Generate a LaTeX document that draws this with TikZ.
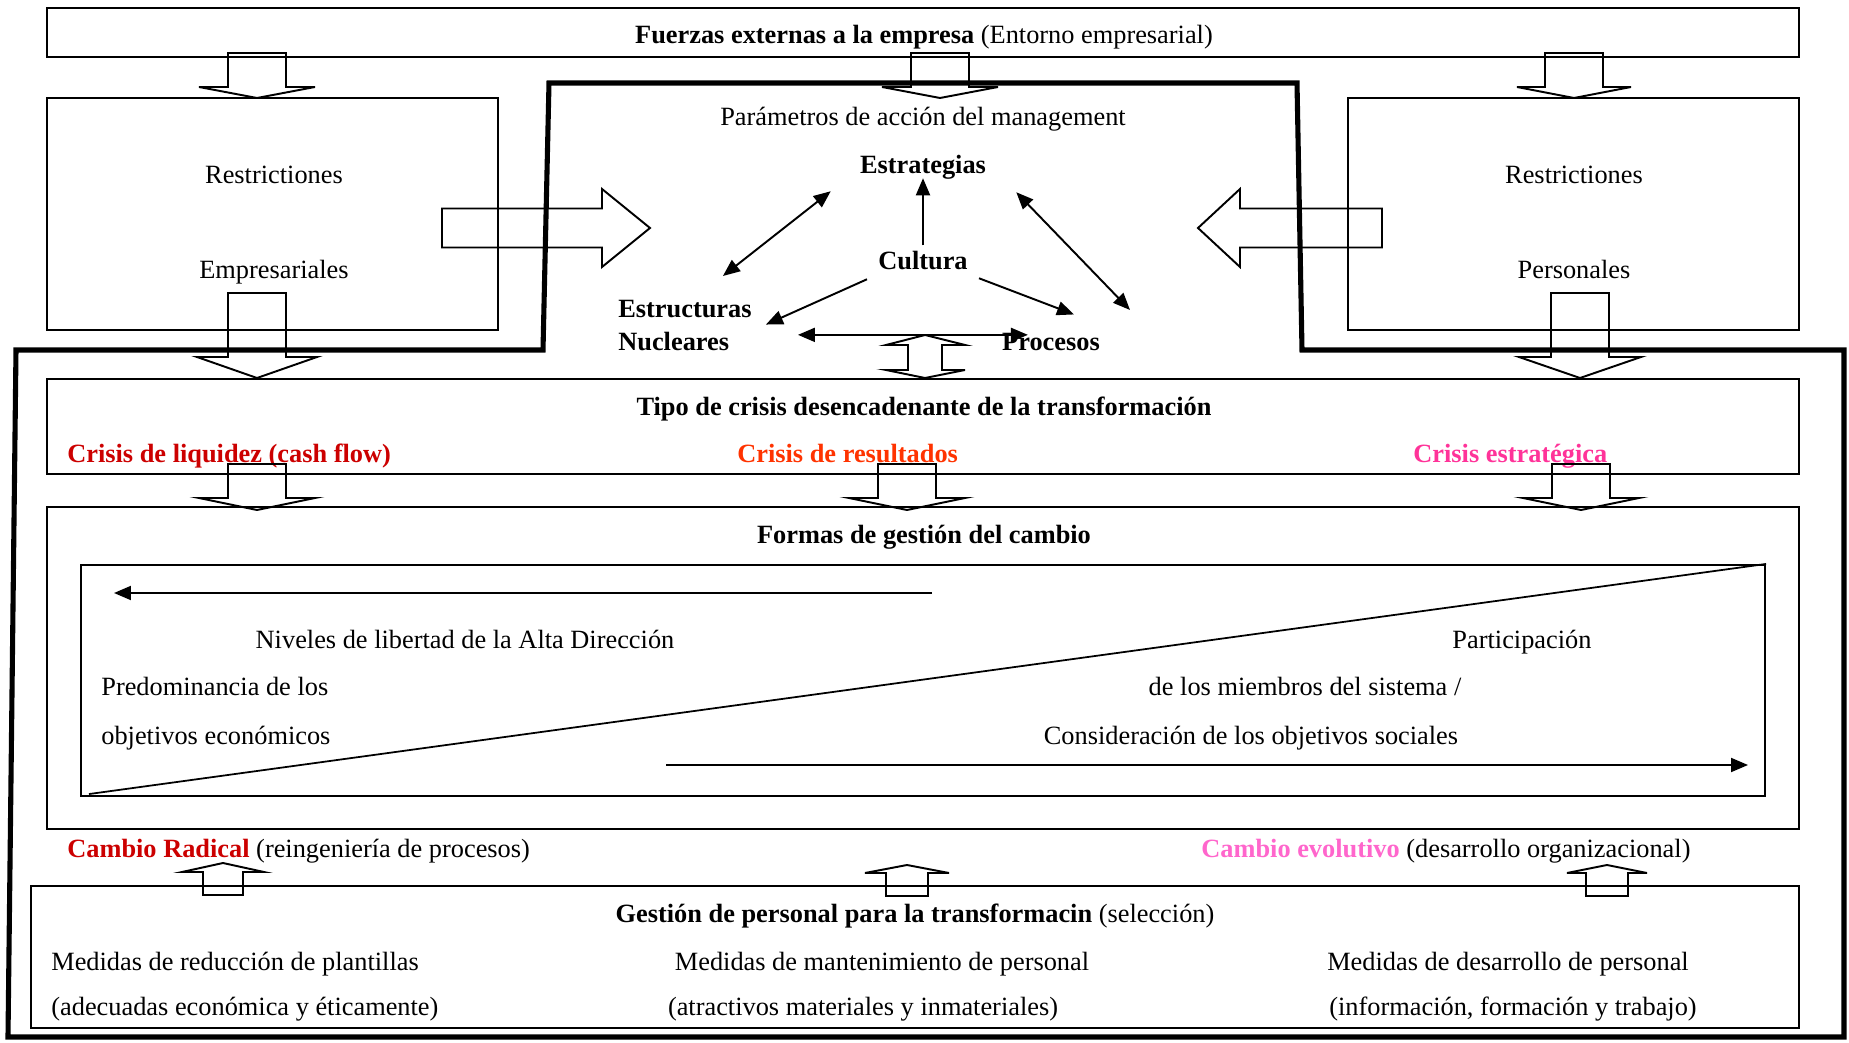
\documentclass[tikz,border=0pt]{standalone}
\usepackage{fontspec}
\setmainfont{Liberation Serif}
\usetikzlibrary{arrows.meta,fit,positioning}

\definecolor{liqred}{HTML}{CC0000}
\definecolor{resorange}{HTML}{FF3300}
\definecolor{estpink}{HTML}{FF3399}
\definecolor{evopink}{HTML}{FF66CC}

% hollow block arrows: centre, start, head base, tip, shaft half, head half
\newcommand{\blkvert}[6]{%
  \draw[blk] ({#1-#5},#2) -- ({#1-#5},#3) -- ({#1-#6},#3) -- (#1,#4)
    -- ({#1+#6},#3) -- ({#1+#5},#3) -- ({#1+#5},#2) -- cycle;}
\newcommand{\blkhorz}[6]{%
  \draw[blk] (#2,{#1-#5}) -- (#3,{#1-#5}) -- (#3,{#1-#6}) -- (#4,#1)
    -- (#3,{#1+#6}) -- (#3,{#1+#5}) -- (#2,{#1+#5}) -- cycle;}

\begin{document}
\begin{tikzpicture}[x=0.02cm, y=-0.02cm,
    font=\fontsize{15}{18.7}\selectfont,
    box/.style={draw, line width=0.9pt, inner sep=0pt},
    blk/.style={draw, line width=1.1pt, line join=miter},
    frame/.style={draw, line width=2.9pt, line join=miter},
    arr/.style={line width=1.1pt, -{Triangle[length=0.34cm,width=0.28cm]}},
    dblarr/.style={line width=1.1pt, {Triangle[length=0.34cm,width=0.28cm]}-{Triangle[length=0.34cm,width=0.28cm]}},
    txt/.style={inner sep=0pt, text height=1.5ex, text depth=.25ex, yshift=-2.2pt},
    hd/.style={txt, font=\fontsize{15}{18.7}\selectfont\bfseries}
  ]
  \useasboundingbox (0,0) rectangle (1849,1043);

  % boxes
  \node[box, fit={(47,8) (1799,57)}] (fuerzas) {};
  \node[box, fit={(47,98) (498,330)}] (restE) {};
  \node[box, fit={(1348,98) (1799,330)}] (restP) {};
  \node[box, fit={(47,379) (1799,474)}] (crisis) {};
  \node[box, fit={(47,507) (1799,829)}] (formas) {};
  \node[box, line width=1.2pt, fit={(81,565) (1765,796)}] (formasIn) {};
  \node[box, fit={(31,886) (1799,1028)}] (gestion) {};

  % management frame
  \draw[frame] (8,1037) -- (16,350) -- (543,350) -- (549,83) -- (1297,83)
    -- (1302,350) -- (1844,350) -- (1844,1037) -- cycle;

  % texts of the upper part
  \node[txt] (fuerzasT) at (924,35) {\textbf{Fuerzas externas a la empresa} (Entorno empresarial)};
  \node[txt] (restE1) at (274,175) {Restrictiones};
  \node[txt] (restE2) at (274,270) {Empresariales};
  \node[txt] (restP1) at (1574,175) {Restrictiones};
  \node[txt] (restP2) at (1574,270) {Personales};
  \node[txt] (param) at (923,117) {Parámetros de acción del management};
  \node[hd] (estr) at (923,165) {Estrategias};
  \node[hd] (cult) at (923,261) {Cultura};
  \node[inner sep=0pt, align=left, font=\fontsize{15}{18.7}\selectfont\bfseries, anchor=north west] (nucl) at (618,300) {Estructuras\\Nucleares};
  \node[hd] (proc) at (1051,342) {Procesos};
  \coordinate (estrR) at (1130,310);
  \coordinate (procL) at ([shift={(26,-11)}]proc.west);

  \draw[arr] ([shift={(0,-12)}]cult.north) -- ([shift={(0,2)}]estr.south);
  \draw[dblarr] ([shift={(-29,15)}]estr.south west) -- ([shift={(-29,-24)}]nucl.north east);
  \draw[arr] ([shift={(-11,7)}]cult.south west) -- ([shift={(14,-1)}]nucl.east);
  \draw[arr] ([shift={(11,6)}]cult.south east) -- ([shift={(23,-24)}]proc.north);
  \draw[dblarr] ([shift={(30,16)}]estr.south east) -- (estrR);
  \draw[dblarr] ([shift={(46,0)}]procL -| nucl.east) -- (procL);

  % crisis
  \node[hd] (crisisT) at (924,407) {Tipo de crisis desencadenante de la transformación};
  \node[hd, anchor=west, text=liqred] (liq) at (67,454) {Crisis de liquidez (cash flow)};
  \node[hd, anchor=west, text=resorange] (res) at (737,454) {Crisis de resultados};
  \node[hd, anchor=west, text=estpink] (est) at (1413,454) {Crisis estratégica};

  % formas de gestion
  \node[hd] (formasT) at (924,535) {Formas de gestión del cambio};
  \coordinate (libR) at (932,593);
  \coordinate (libL) at (114,593);
  \coordinate (partL) at (666,765);
  \coordinate (partR) at (1748,765);
  \draw[arr] (libR) -- (libL);
  \draw[arr] (partL) -- (partR);
  \draw[line width=1pt] ([shift={(9,-3)}]formasIn.south west) -- (formasIn.north east);
  \node[txt] (libT) at (465,640) {Niveles de libertad de la Alta Dirección};
  \node[txt, anchor=west] (eco1) at (101,687) {Predominancia de los};
  \node[txt, anchor=west] (eco2) at (101,736) {objetivos económicos};
  \node[txt] (part1) at (1522,640) {Participación};
  \node[txt] (part2) at (1305,687) {de los miembros del sistema /};
  \node[txt] (part3) at (1251,736) {Consideración de los objetivos sociales};

  % cambio
  \node[txt, anchor=west] (radical) at (67,849) {\textbf{\textcolor{liqred}{Cambio Radical}} (reingeniería de procesos)};
  \node[txt, anchor=west] (evol) at (1201,849) {\textbf{\textcolor{evopink}{Cambio evolutivo}} (desarrollo organizacional)};

  % gestion de personal
  \node[txt] (gestionT) at (915,914) {\textbf{Gestión de personal para la transformacin} (selección)};
  \node[txt, anchor=west] (red1) at (51,962) {Medidas de reducción de plantillas};
  \node[txt, anchor=west] (red2) at (51,1007) {(adecuadas económica y éticamente)};
  \node[txt] (man1) at (882,962) {Medidas de mantenimiento de personal};
  \node[txt] (man2) at (863,1007) {(atractivos materiales y inmateriales)};
  \node[txt] (des1) at (1508,962) {Medidas de desarrollo de personal};
  \node[txt] (des2) at (1513,1007) {(información, formación y trabajo)};

  % block arrows
  \blkvert{257}{53}{87}{98}{29}{58}
  \blkvert{940}{53}{87}{98}{29}{58}
  \blkvert{1574}{53}{87}{98}{29}{57}
  \blkhorz{228}{442}{602}{650}{19.5}{39}
  \blkhorz{228}{1382}{1240}{1198}{19.5}{39}
  \blkvert{257}{293}{357}{378}{29}{60}
  \blkvert{1580}{293}{357}{378}{29}{61}
  \draw[blk] (925,335) -- (965,345) -- (942,345) -- (942,370) -- (965,370) -- (925,378)
    -- (886,370) -- (908,370) -- (908,345) -- (886,345) -- cycle;
  \blkvert{257}{464}{498}{510}{29}{58}
  \blkvert{907}{464}{498}{510}{29}{58}
  \blkvert{1581}{464}{498}{510}{29}{58}
  \blkvert{223}{895}{872}{863}{20}{41}
  \blkvert{907}{896}{873}{865}{21}{42}
  \blkvert{1607}{896}{873}{865}{21}{40}
\end{tikzpicture}
\end{document}
